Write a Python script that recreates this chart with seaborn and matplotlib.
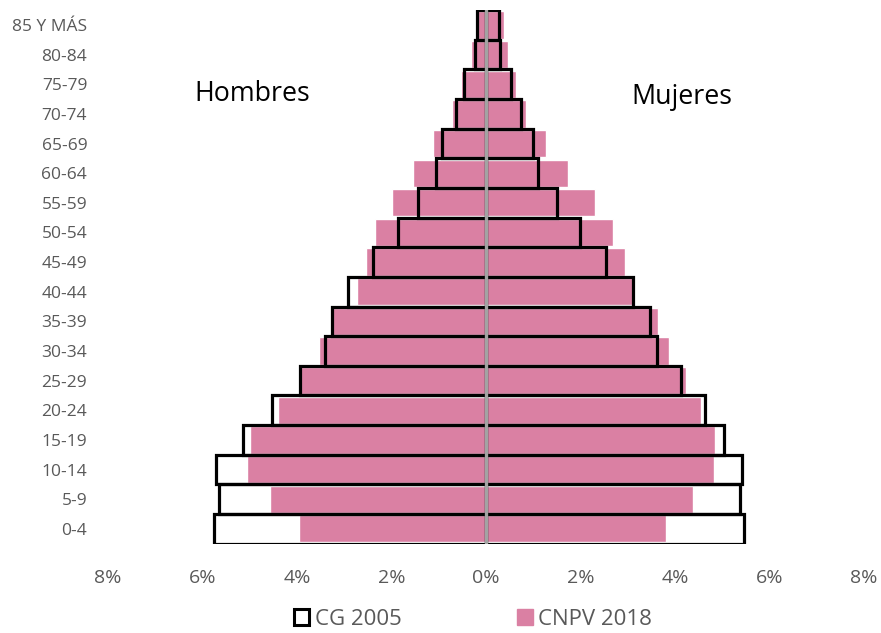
import matplotlib
matplotlib.use("Agg")
import matplotlib.pyplot as plt
import matplotlib.ticker as mticker
from matplotlib.patches import Patch
import seaborn as sns
import pandas as pd

groups = ["85 Y MÁS", "80-84", "75-79", "70-74", "65-69", "60-64", "55-59",
          "50-54", "45-49", "40-44", "35-39", "30-34", "25-29", "20-24",
          "15-19", "10-14", "5-9", "0-4"]
hombres_2005 = [0.19, 0.24, 0.46, 0.64, 0.93, 1.06, 1.43, 1.86, 2.40, 2.92,
                3.26, 3.40, 3.93, 4.53, 5.15, 5.71, 5.65, 5.76]
hombres_2018 = [0.23, 0.32, 0.52, 0.71, 1.12, 1.54, 2.00, 2.35, 2.53, 2.72,
                3.25, 3.54, 3.96, 4.41, 5.00, 5.05, 4.58, 3.96]
mujeres_2005 = [0.27, 0.30, 0.52, 0.74, 1.00, 1.11, 1.50, 1.98, 2.55, 3.11,
                3.47, 3.62, 4.12, 4.63, 5.03, 5.42, 5.37, 5.46]
mujeres_2018 = [0.39, 0.46, 0.64, 0.85, 1.26, 1.74, 2.30, 2.68, 2.94, 3.14,
                3.65, 3.88, 4.24, 4.54, 4.85, 4.82, 4.39, 3.81]
xticks = [-8, -6, -4, -2, 0, 2, 4, 6, 8]

PINK = "#DA80A3"
GREY = "#595959"

sns.set_theme(style="white")
plt.rcParams["font.family"] = ["Open Sans", "DejaVu Sans"]

df18 = pd.DataFrame({"grupo": groups * 2,
                     "valor": [-v for v in hombres_2018] + mujeres_2018})
df05 = pd.DataFrame({"grupo": groups * 2,
                     "valor": [-v for v in hombres_2005] + mujeres_2005})

fig = plt.figure(figsize=(8.81, 6.33), dpi=100)
ax = fig.add_axes([0.1226, 0.1412, 0.8581, 0.8427])

for sign in (-1, 1):
    sub = df18[(df18["valor"] * sign) > 0]
    sns.barplot(data=sub, x="valor", y="grupo", order=groups, orient="h",
                color=PINK, saturation=1, width=0.92, ax=ax, zorder=2)
for sign in (-1, 1):
    sub = df05[(df05["valor"] * sign) > 0]
    sns.barplot(data=sub, x="valor", y="grupo", order=groups, orient="h",
                fill=False, color="black", linewidth=2.3, width=1.0, ax=ax, zorder=3)

ax.axvline(0, color="#A3A3A3", lw=2.4, zorder=5)

ax.set_xlim(-8, 8)
ax.set_xticks(xticks)
ax.xaxis.set_major_formatter(mticker.FuncFormatter(lambda v, p: f"{abs(v):.0f}%"))
ax.set_xlabel("")
ax.set_ylabel("")
ax.tick_params(axis="x", colors=GREY, labelsize=14, pad=18, length=0)
ax.tick_params(axis="y", colors=GREY, labelsize=12.5, pad=15, length=0)
for s in ax.spines.values():
    s.set_visible(False)

ax.text(0.221, 0.852, "Hombres", transform=fig.transFigure, fontsize=19.3,
        color="black", ha="left", va="center")
ax.text(0.717, 0.846, "Mujeres", transform=fig.transFigure, fontsize=19.3,
        color="black", ha="left", va="center")

handles = [Patch(facecolor="white", edgecolor="black", linewidth=2.2),
           Patch(facecolor=PINK, edgecolor=PINK)]
leg = fig.legend(handles, ["CG 2005", "CNPV 2018"], loc="center",
                 bbox_to_anchor=(0.537, 0.022), ncol=2, frameon=False,
                 fontsize=16, handlelength=0.7, handleheight=0.7,
                 handletextpad=0.25, columnspacing=5.2, borderpad=0.1)
for t in leg.get_texts():
    t.set_color(GREY)

fig.savefig("out.png", dpi=100)
